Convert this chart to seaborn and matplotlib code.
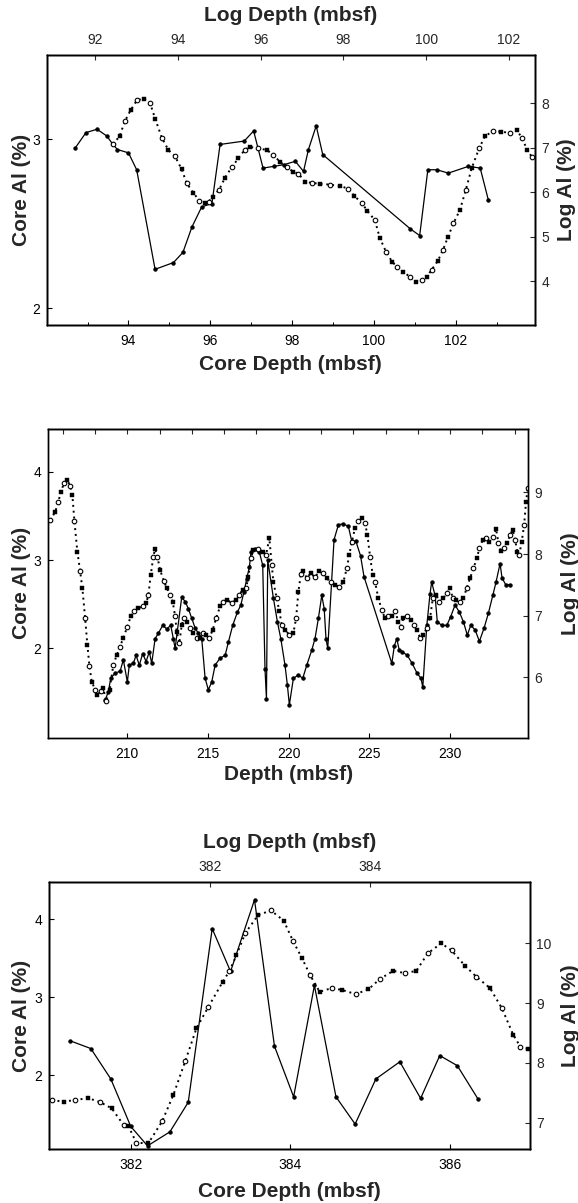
import numpy as np
import pandas as pd
import matplotlib
matplotlib.use("Agg")
import matplotlib.pyplot as plt
import seaborn as sns

# ---------------- Panel 1 data ----------------
core1_depth = [92.70, 92.96, 93.23, 93.47, 93.62, 93.73, 94.00, 94.20, 94.65, 95.10,
               95.33, 95.55, 95.79, 96.04, 96.24, 96.83, 97.06, 97.29, 97.55, 97.80,
               98.08, 98.28, 98.40, 98.59, 98.75, 100.89, 101.12, 101.32, 101.54, 101.82,
               102.31, 102.60, 102.80]
core1_al = [2.95, 3.04, 3.06, 3.02, 2.97, 2.94, 2.92, 2.82, 2.23, 2.27,
            2.33, 2.48, 2.60, 2.62, 2.97, 2.99, 3.05, 2.83, 2.84, 2.85,
            2.87, 2.81, 2.94, 3.08, 2.91, 2.47, 2.43, 2.82, 2.82, 2.80,
            2.84, 2.83, 2.64]

log1_depth = [92.43, 92.59, 92.72, 92.86, 93.01, 93.17, 93.33, 93.45, 93.61, 93.77,
              93.93, 94.09, 94.21, 94.37, 94.52, 94.66, 94.74, 94.84, 95.00, 95.14,
              95.30, 95.46, 95.62, 95.74, 95.94, 96.15, 96.31, 96.47, 96.63, 96.79,
              96.91, 97.07, 97.23, 97.43, 97.68, 97.92, 98.12, 98.26, 98.44, 98.58,
              98.76, 98.88, 99.03, 99.18, 99.30, 99.45, 99.61, 99.75, 99.89, 100.01,
              100.13, 100.28, 100.41, 100.53, 100.66, 100.82, 100.96, 101.10, 101.28, 101.42,
              101.62, 101.82, 102.02, 102.19, 102.31, 102.44, 102.55]
log1_al = [7.08, 7.26, 7.60, 7.85, 8.07, 8.11, 8.00, 7.66, 7.23, 6.95,
           6.81, 6.52, 6.21, 5.99, 5.81, 5.76, 5.78, 5.90, 6.06, 6.33,
           6.56, 6.76, 6.96, 7.02, 6.99, 6.95, 6.84, 6.68, 6.57, 6.46,
           6.42, 6.24, 6.21, 6.19, 6.17, 6.14, 6.08, 5.92, 5.76, 5.58,
           5.37, 4.97, 4.66, 4.43, 4.32, 4.21, 4.09, 3.97, 4.02, 4.09,
           4.25, 4.45, 4.71, 5.00, 5.30, 5.61, 6.06, 6.54, 6.99, 7.26,
           7.38, 7.36, 7.34, 7.40, 7.23, 6.96, 6.80]

# ---------------- Panel 2 data ----------------
core2_depth = [208.62, 208.82, 208.97, 209.24, 209.55, 209.75, 210.00, 210.12, 210.37, 210.54,
               210.74, 210.95, 211.16, 211.36, 211.51, 211.72, 211.92, 212.19, 212.44, 212.69,
               212.85, 212.96, 213.37, 213.58, 213.78, 213.99, 214.20, 214.40, 214.61, 214.82,
               215.02, 215.23, 215.44, 215.75, 216.06, 216.26, 216.53, 216.82, 217.03, 217.23,
               217.40, 217.56, 217.67, 217.91, 218.18, 218.39, 218.53, 218.62, 218.70, 219.05,
               219.30, 219.51, 219.77, 219.92, 220.04, 220.29, 220.60, 220.87, 221.12, 221.43,
               221.63, 221.84, 222.05, 222.20, 222.31, 222.42, 222.81, 223.08, 223.39, 223.70,
               223.91, 224.17, 224.45, 224.67, 226.39, 226.55, 226.70, 226.85, 227.05, 227.35,
               227.65, 227.95, 228.20, 228.31, 228.56, 228.76, 228.86, 229.07, 229.21, 229.49,
               229.80, 230.04, 230.31, 230.58, 230.83, 231.07, 231.28, 231.55, 231.82, 232.11,
               232.38, 232.65, 232.85, 233.10, 233.22, 233.45, 233.70]
core2_al = [1.41, 1.51, 1.66, 1.72, 1.74, 1.87, 1.62, 1.81, 1.83, 1.92,
            1.81, 1.94, 1.85, 1.96, 1.83, 2.11, 2.17, 2.26, 2.22, 2.26,
            2.11, 2.00, 2.58, 2.53, 2.45, 2.34, 2.23, 2.17, 2.11, 1.66,
            1.53, 1.62, 1.81, 1.89, 1.92, 2.07, 2.26, 2.41, 2.49, 2.64,
            2.79, 2.92, 3.09, 3.12, 3.09, 2.94, 1.77, 1.43, 3.00, 2.57,
            2.30, 2.11, 1.81, 1.58, 1.36, 1.66, 1.70, 1.66, 1.81, 1.98,
            2.11, 2.34, 2.60, 2.45, 2.11, 2.00, 3.23, 3.40, 3.41, 3.38,
            3.21, 3.21, 3.05, 2.81, 1.83, 2.03, 2.11, 1.98, 1.96, 1.92,
            1.83, 1.72, 1.66, 1.56, 2.26, 2.62, 2.75, 2.60, 2.30, 2.26,
            2.26, 2.36, 2.49, 2.41, 2.30, 2.15, 2.26, 2.21, 2.08, 2.23,
            2.40, 2.60, 2.75, 2.96, 2.80, 2.72, 2.72]

log2_depth = [205.21, 205.52, 205.72, 205.87, 206.08, 206.28, 206.45, 206.59, 206.72, 206.90,
              207.07, 207.21, 207.38, 207.52, 207.65, 207.79, 208.00, 208.14, 208.35, 208.51,
              208.68, 208.90, 209.13, 209.34, 209.55, 209.75, 210.00, 210.21, 210.42, 210.68,
              210.95, 211.16, 211.30, 211.45, 211.61, 211.72, 211.86, 212.03, 212.27, 212.44,
              212.65, 212.81, 212.96, 213.06, 213.22, 213.37, 213.51, 213.68, 213.89, 214.09,
              214.30, 214.51, 214.67, 214.86, 215.08, 215.29, 215.50, 215.75, 215.95, 216.20,
              216.47, 216.74, 216.94, 217.15, 217.36, 217.50, 217.65, 217.81, 218.12, 218.39,
              218.60, 218.80, 218.95, 219.05, 219.26, 219.42, 219.57, 219.77, 220.04, 220.29,
              220.46, 220.60, 220.75, 220.91, 221.12, 221.37, 221.63, 221.90, 222.15, 222.36,
              222.61, 222.87, 223.14, 223.39, 223.60, 223.76, 223.91, 224.11, 224.32, 224.53,
              224.73, 224.88, 225.04, 225.21, 225.35, 225.56, 225.77, 225.97, 226.18, 226.39,
              226.59, 226.80, 226.94, 227.11, 227.32, 227.56, 227.77, 227.97, 228.14, 228.35,
              228.56, 228.76, 228.93, 229.13, 229.34, 229.58, 229.80, 230.00, 230.17, 230.37,
              230.62, 230.83, 231.03, 231.24, 231.45, 231.66, 231.82, 232.03, 232.23, 232.44,
              232.65, 232.85, 233.00, 233.14, 233.35, 233.55, 233.72, 233.89, 234.03, 234.17,
              234.29, 234.44, 234.59, 234.71, 234.82]
log2_al = [8.55, 8.68, 8.84, 9.01, 9.15, 9.20, 9.11, 8.96, 8.53, 8.04,
           7.73, 7.45, 6.97, 6.53, 6.18, 5.93, 5.80, 5.72, 5.77, 5.82,
           5.61, 5.80, 6.20, 6.36, 6.50, 6.64, 6.82, 6.99, 7.07, 7.12,
           7.15, 7.20, 7.33, 7.66, 7.96, 8.08, 7.96, 7.74, 7.56, 7.45,
           7.34, 7.23, 6.99, 6.74, 6.55, 6.85, 6.97, 6.90, 6.80, 6.72,
           6.64, 6.64, 6.72, 6.69, 6.64, 6.77, 6.96, 7.15, 7.23, 7.26,
           7.20, 7.26, 7.34, 7.42, 7.45, 7.63, 7.93, 8.07, 8.08, 8.04,
           7.99, 8.26, 7.82, 7.55, 7.28, 7.07, 6.85, 6.77, 6.69, 6.72,
           6.96, 7.39, 7.67, 7.72, 7.61, 7.69, 7.62, 7.73, 7.69, 7.61,
           7.54, 7.50, 7.47, 7.55, 7.77, 7.99, 8.20, 8.42, 8.53, 8.58,
           8.50, 8.31, 7.96, 7.66, 7.55, 7.28, 7.09, 6.96, 6.99, 7.00,
           7.08, 6.90, 6.82, 6.96, 6.99, 6.93, 6.85, 6.77, 6.64, 6.69,
           6.80, 6.96, 7.28, 7.34, 7.23, 7.28, 7.37, 7.45, 7.28, 7.26,
           7.23, 7.28, 7.45, 7.61, 7.77, 7.93, 8.10, 8.23, 8.26, 8.20,
           8.28, 8.41, 8.18, 8.05, 8.10, 8.18, 8.31, 8.39, 8.23, 8.04,
           7.99, 8.20, 8.47, 8.85, 9.07]

# ---------------- Panel 3 data ----------------
core3_depth = [381.24, 381.50, 381.75, 382.00, 382.21, 382.49, 382.72, 383.02, 383.25, 383.55,
               383.80, 384.04, 384.30, 384.57, 384.81, 385.07, 385.37, 385.63, 385.87, 386.09,
               386.35]
core3_al = [2.44, 2.34, 1.95, 1.34, 1.09, 1.27, 1.65, 3.88, 3.33, 4.25,
            2.37, 1.72, 3.15, 1.72, 1.37, 1.95, 2.17, 1.70, 2.25, 2.12,
            1.69]

log3_depth = [380.02, 380.17, 380.31, 380.48, 380.63, 380.77, 380.92, 380.98, 381.08, 381.23,
              381.40, 381.54, 381.69, 381.83, 381.98, 382.16, 382.24, 382.33, 382.44, 382.60,
              382.76, 382.92, 383.04, 383.15, 383.25, 383.37, 383.52, 383.65, 383.82, 383.98,
              384.12, 384.29, 384.44, 384.58, 384.72, 384.89, 385.02, 385.19, 385.33, 385.50,
              385.65, 385.79, 385.88, 385.98]
log3_al = [7.38, 7.35, 7.38, 7.41, 7.34, 7.24, 6.96, 6.94, 6.66, 6.66,
           7.02, 7.46, 8.03, 8.58, 8.94, 9.36, 9.53, 9.80, 10.17, 10.47,
           10.55, 10.38, 10.03, 9.75, 9.47, 9.19, 9.25, 9.22, 9.15, 9.23,
           9.40, 9.54, 9.50, 9.54, 9.83, 10.00, 9.88, 9.62, 9.44, 9.25,
           8.91, 8.47, 8.27, 8.23]

# ---------------- Tick labels / axis texts ----------------
p1_bottom_ticks = [94, 96, 98, 100, 102]
p1_top_ticks = [92, 94, 96, 98, 100, 102]
p1_left_ticks = [2, 3]
p1_right_ticks = [4, 5, 6, 7, 8]
p2_bottom_ticks = [210, 215, 220, 225, 230]
p2_left_ticks = [2, 3, 4]
p2_right_ticks = [6, 7, 8, 9]
p3_bottom_ticks = [382, 384, 386]
p3_top_ticks = [382, 384]
p3_left_ticks = [2, 3, 4]
p3_right_ticks = [7, 8, 9, 10]

sns.set_style("ticks")
plt.rcParams['font.family'] = ['Liberation Sans', 'DejaVu Sans']

W, H = 578, 1203
fig = plt.figure(figsize=(W / 100, H / 100), dpi=100)


def px_axes(x0, y0, x1, y1):
    return fig.add_axes([x0 / W, 1 - y1 / H, (x1 - x0) / W, (y1 - y0) / H])


def core_line(ax, x, y):
    df = pd.DataFrame({"depth": x, "al": y})
    sns.lineplot(data=df, x="depth", y="al", ax=ax, color="k", lw=0.9,
                 marker="o", ms=2.4, mec="k", mfc="k", estimator=None, sort=False)


def log_line(ax, x, y):
    df = pd.DataFrame({"depth": x, "al": y})
    sns.lineplot(data=df, x="depth", y="al", ax=ax, color="k", lw=1.4,
                 linestyle=(0, (1, 2)), marker="o", ms=3.3, mfc="white", mec="k",
                 mew=0.8, markevery=(0, 2), estimator=None, sort=False)
    sub = df.iloc[1::2]
    sns.scatterplot(data=sub, x="depth", y="al", ax=ax, color="k", marker="s",
                    s=7, edgecolor="k", linewidth=0.3, zorder=3)


def style(ax):
    for s in ax.spines.values():
        s.set_linewidth(1.0)
        s.set_color("k")


LBL = dict(fontsize=15, fontweight="bold")


def set_labels(ax, xl=None, xl_y=None, yl=None, yl_x=None):
    if xl is not None:
        ax.set_xlabel(xl, **LBL)
        ax.xaxis.label.set_va("center")
        ax.xaxis.set_label_coords(0.5, xl_y)
    if yl is not None:
        ax.set_ylabel(yl, **LBL)
        ax.yaxis.label.set_va("center")
        ax.yaxis.label.set_rotation(90)
        ax.yaxis.set_label_coords(yl_x, 0.5)


def base_ticks(ax):
    ax.tick_params(axis="both", which="both", direction="in", colors="k",
                   labelsize=10, top=False, right=False)
    ax.tick_params(axis="both", which="major", length=3.5, width=0.8)
    ax.tick_params(axis="both", which="minor", length=2.2, width=0.7)
    ax.tick_params(axis="x", pad=6.5)
    ax.tick_params(axis="y", pad=5)


# ================= Panel 1 =================
ax1 = px_axes(46.7, 55, 535, 325)
core_line(ax1, core1_depth, core1_al)
ax1.set_xlim(92.0, 103.94)
ax1.set_ylim(1.90, 3.50)
ax1.set_xticks(p1_bottom_ticks)
ax1.set_xticks(np.arange(93, 104, 1), minor=True)
ax1.set_yticks(p1_left_ticks)
base_ticks(ax1)
style(ax1)

ax1r = ax1.twinx()
ax1t = ax1r.twiny()
log_line(ax1t, log1_depth, log1_al)
ax1t.set_xlim(90.83, 102.63)
ax1r.set_ylim(3.01, 9.09)
ax1t.set_ylim(3.01, 9.09)
ax1t.set_xticks(p1_top_ticks)
ax1r.set_yticks(p1_right_ticks)
ax1t.tick_params(axis="x", direction="in", labelsize=10, pad=5.5, length=3.5, width=0.8)
ax1r.tick_params(axis="y", direction="in", labelsize=10, pad=4.5, length=3.5, width=0.8)
for a in (ax1r, ax1t):
    style(a)

set_labels(ax1, xl="Core Depth (mbsf)", xl_y=-0.148, yl="Core Al (%)", yl_x=-0.0526)
ax1t.set_xlabel("Log Depth (mbsf)", **LBL)
ax1t.xaxis.label.set_va("center")
ax1t.xaxis.set_label_coords(0.5, 1.148)
ax1t.set_ylabel("")
ax1r.set_ylabel("Log Al (%)", **LBL)
ax1r.yaxis.label.set_va("center")
ax1r.yaxis.label.set_rotation(90)
ax1r.yaxis.set_label_coords(1.0655, 0.5)

# ================= Panel 2 =================
ax2 = px_axes(48.3, 429, 528.3, 737.7)
core_line(ax2, core2_depth, core2_al)
ax2.set_xlim(205.10, 234.85)
ax2.set_ylim(0.988, 4.484)
ax2.set_xticks(p2_bottom_ticks)
ax2.set_yticks(p2_left_ticks)
base_ticks(ax2)
style(ax2)
sec = ax2.secondary_xaxis("top")
sec.set_xticks(np.arange(206, 235, 2))
sec.tick_params(axis="x", direction="in", length=3.5, width=0.8, labeltop=False)
sec.spines["top"].set_linewidth(1.0)

ax2r = ax2.twinx()
log_line(ax2r, log2_depth, log2_al)
ax2r.set_xlim(205.10, 234.85)
ax2r.set_ylim(5.02, 10.03)
ax2r.set_yticks(p2_right_ticks)
ax2r.tick_params(axis="y", direction="in", labelsize=10, pad=4.5, length=3.5, width=0.8)
style(ax2r)

set_labels(ax2, xl="Depth (mbsf)", xl_y=-0.118, yl="Core Al (%)", yl_x=-0.055)
ax2r.set_xlabel("")
ax2r.set_ylabel("Log Al (%)", **LBL)
ax2r.yaxis.label.set_va("center")
ax2r.yaxis.label.set_rotation(90)
ax2r.yaxis.set_label_coords(1.087, 0.5)

# ================= Panel 3 =================
ax3 = px_axes(49.3, 881.7, 530, 1149.3)
core_line(ax3, core3_depth, core3_al)
ax3.set_xlim(380.98, 387.0)
ax3.set_ylim(1.046, 4.483)
ax3.set_xticks(p3_bottom_ticks)
ax3.set_yticks(p3_left_ticks)
base_ticks(ax3)
style(ax3)

ax3r = ax3.twinx()
ax3t = ax3r.twiny()
log_line(ax3t, log3_depth, log3_al)
ax3t.set_xlim(379.99, 386.0)
ax3r.set_ylim(6.555, 11.03)
ax3t.set_ylim(6.555, 11.03)
ax3t.set_xticks(p3_top_ticks)
ax3r.set_yticks(p3_right_ticks)
ax3t.tick_params(axis="x", direction="in", labelsize=10, pad=5.5, length=3.5, width=0.8)
ax3r.tick_params(axis="y", direction="in", labelsize=10, pad=4.5, length=3.5, width=0.8)
for a in (ax3r, ax3t):
    style(a)

set_labels(ax3, xl="Core Depth (mbsf)", xl_y=-0.156, yl="Core Al (%)", yl_x=-0.0568)
ax3t.set_xlabel("Log Depth (mbsf)", **LBL)
ax3t.xaxis.label.set_va("center")
ax3t.xaxis.set_label_coords(0.5, 1.148)
ax3t.set_ylabel("")
ax3r.set_ylabel("Log Al (%)", **LBL)
ax3r.yaxis.label.set_va("center")
ax3r.yaxis.label.set_rotation(90)
ax3r.yaxis.set_label_coords(1.085, 0.5)

fig.savefig("out.png", dpi=100, facecolor="white")
